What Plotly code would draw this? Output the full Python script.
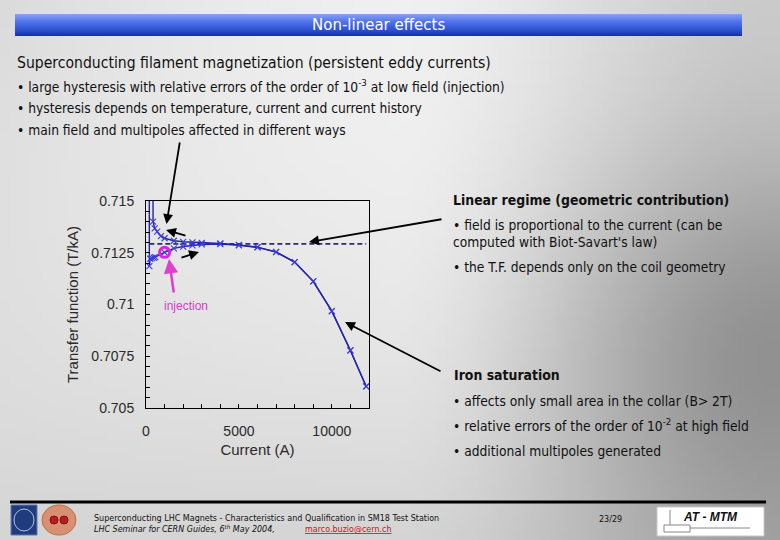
import base64
import math
import struct
import zlib
import plotly.graph_objects as go

# ---------------- data ----------------
ramp_up_current = [170, 180, 230, 320, 420, 500, 1000, 1500, 2000, 2500, 3000, 4000,
                   5000, 6000, 7000, 8000, 9000, 10000, 11000, 11850]
ramp_up_tf = [0.7300, 0.71185, 0.71221, 0.71224, 0.71226, 0.71229, 0.71252, 0.71271,
              0.71280, 0.71286, 0.71290, 0.71292, 0.71286, 0.71276, 0.71253, 0.71205,
              0.71112, 0.70968, 0.70778, 0.70604]
ramp_down_current = [11850, 11000, 10000, 9000, 8000, 7000, 6000, 5000, 4000, 3000,
                     2500, 2000, 1500, 1000, 800, 600, 470, 380, 360]
ramp_down_tf = [0.70604, 0.70778, 0.70968, 0.71112, 0.71205, 0.71254, 0.71277, 0.71288,
                0.71295, 0.71298, 0.71300, 0.71303, 0.71308, 0.71320, 0.71330, 0.71352,
                0.71368, 0.71400, 0.7300]
geometric_current = [180, 11850]
geometric_tf = [0.71293, 0.71293]
injection_current = [1000]
injection_tf = [0.71252]

x_tick_values = [0, 5000, 10000]
x_tick_labels = ["0", "5000", "10000"]
y_tick_values = [0.705, 0.7075, 0.71, 0.7125, 0.715]
y_tick_labels = ["0.705", "0.7075", "0.71", "0.7125", "0.715"]

# ---------------- page geometry helpers ----------------
W, H = 780, 540
ML, MR, MT, MB = 146, 411, 201, 132
PW, PH = W - ML - MR, H - MT - MB


def X(px):
    return (px - ML) / PW


def Y(py):
    return (H - MB - py) / PH


def _chunk(tag, data):
    return (struct.pack(">I", len(data)) + tag + data
            + struct.pack(">I", zlib.crc32(tag + data) & 0xFFFFFFFF))


def rgb_png(w, h, fn):
    raw = bytearray()
    for j in range(h):
        raw.append(0)
        for i in range(w):
            r, g, b = fn(i / max(w - 1, 1), j / max(h - 1, 1))
            raw += bytes((int(r), int(g), int(b)))
    png = (b"\x89PNG\r\n\x1a\n"
           + _chunk(b"IHDR", struct.pack(">IIBBBBB", w, h, 8, 2, 0, 0, 0))
           + _chunk(b"IDAT", zlib.compress(bytes(raw), 9))
           + _chunk(b"IEND", b""))
    return "data:image/png;base64," + base64.b64encode(png).decode()


def smoothstep(a, b, t):
    t = min(max((t - a) / (b - a), 0.0), 1.0)
    return t * t * (3 - 2 * t)


def bg_fn(u, v):
    r = smoothstep(0.5, 1.0, u)
    band = math.exp(-((v - 0.62) / 0.35) ** 2)
    val = (243 - 30 * v ** 2 - 85 * r * (0.45 + 0.55 * band)
           - 24 * (1 - u) ** 3 * (1 - v))
    val = max(0, min(255, val))
    return (val, val, val)


def bar_fn(u, v):
    stops = [(0.0, (135, 160, 245)), (0.35, (80, 115, 235)),
             (0.7, (50, 85, 215)), (1.0, (25, 50, 165))]
    for (t0, c0), (t1, c1) in zip(stops[:-1], stops[1:]):
        if v <= t1:
            f = (v - t0) / (t1 - t0)
            return tuple(c0[k] + (c1[k] - c0[k]) * f for k in range(3))
    return stops[-1][1]


BODY = "DejaVu Sans Condensed, DejaVu Sans, sans-serif"
CHART = "Liberation Sans, Arial, sans-serif"
SMALL = "DejaVu Sans, sans-serif"

fig = go.Figure()

fig.add_trace(go.Scatter(
    x=geometric_current, y=geometric_tf, mode="lines",
    line=dict(color="#2e2e6e", width=1.6, dash="5px,3px"),
    hoverinfo="skip", showlegend=False))

for xs, ys in ((ramp_up_current, ramp_up_tf), (ramp_down_current, ramp_down_tf)):
    fig.add_trace(go.Scatter(
        x=xs, y=ys, mode="lines+markers",
        line=dict(color="#2424a8", width=1.4),
        marker=dict(symbol="x-thin", size=6, color="#3b3be6",
                    line=dict(color="#3b3be6", width=1.1)),
        showlegend=False))

fig.add_trace(go.Scatter(
    x=injection_current, y=injection_tf, mode="markers",
    marker=dict(symbol="circle-open", size=10, color="#e020e0",
                line=dict(color="#e020e0", width=3)),
    showlegend=False))

fig.update_xaxes(
    range=[0, 12000], tickmode="array", tickvals=x_tick_values, ticktext=x_tick_labels,
    ticks="inside", ticklen=4, tickcolor="black", showgrid=False, zeroline=False,
    showline=True, linecolor="black", linewidth=1, mirror=True,
    minor=dict(tickmode="linear", tick0=0, dtick=1000, ticks="inside", ticklen=4,
               tickcolor="black", showgrid=False),
    tickfont=dict(family=CHART, size=14, color="#2a2a2a"), ticklabelstandoff=10,
    title=dict(text="Current (A)", font=dict(family=CHART, size=15, color="#2a2a2a"),
               standoff=6))
fig.update_yaxes(
    range=[0.705, 0.715], tickmode="array", tickvals=y_tick_values, ticktext=y_tick_labels,
    ticks="inside", ticklen=4, tickcolor="black", showgrid=False, zeroline=False,
    showline=True, linecolor="black", linewidth=1, mirror=True,
    minor=dict(tickmode="linear", tick0=0.705, dtick=0.0005, ticks="inside", ticklen=4,
               tickcolor="black", showgrid=False),
    tickfont=dict(family=CHART, size=14, color="#2a2a2a"), ticklabelstandoff=8,
    title=dict(text="Transfer function (T/kA)",
               font=dict(family=CHART, size=15, color="#2a2a2a"), standoff=9))

ann = []


def text(x, y, s, size=13.7, color="#111", family=BODY, anchor="left"):
    ann.append(dict(x=X(x), y=Y(y), xref="paper", yref="paper", text=s, showarrow=False,
                    xanchor=anchor, yanchor="middle",
                    font=dict(family=family, size=size, color=color)))


def arrow(tail, head, color="black", width=1.8):
    ann.append(dict(x=X(head[0]), y=Y(head[1]), xref="paper", yref="paper",
                    ax=tail[0] - head[0], ay=tail[1] - head[1], text="",
                    showarrow=True, arrowhead=2, arrowsize=1.1, arrowwidth=width,
                    arrowcolor=color, standoff=0))


text(378, 25, "Non-linear effects", size=15, color="white",
     family="DejaVu Sans, sans-serif", anchor="center")
text(15, 63, "Superconducting filament magnetization (persistent eddy currents)", size=15.6)
text(15, 86, "• large hysteresis with relative errors of the order of 10<sup>-3</sup> at low field (injection)")
text(15, 108, "• hysteresis depends on temperature, current and current history")
text(15, 130, "• main field and multipoles affected in different ways")

text(451, 200, "<b>Linear regime (geometric contribution)</b>", size=13.9)
text(451, 225, "• field is proportional to the current (can be")
text(451, 242, "computed with Biot-Savart's law)")
text(451, 267, "• the T.F. depends only on the coil geometry")
text(452, 375, "<b>Iron saturation</b>", size=13.9)
text(451, 401, "• affects only small area in the collar (B> 2T)")
text(451, 425, "• relative errors of the order of 10<sup>-2</sup> at high field")
text(451, 451, "• additional multipoles generated")

text(162, 306, "injection", size=12, color="#d040c8", family=CHART)

arrow((180, 141), (166.5, 224))
arrow((187, 236), (166, 230))
arrow((180, 258), (199, 252))
arrow((443, 219), (309, 242))
arrow((442, 372), (345, 322))
arrow((174, 294), (169, 259), color="#e040d0", width=2.6)

# footer
text(92, 518, "Superconducting LHC Magnets - Characteristics and Qualification in SM18 Test Station",
     size=8, color="#111", family=SMALL)
text(92, 529, "<i>LHC Seminar for CERN Guides, 6<sup>th</sup> May 2004,</i>",
     size=8, color="#111", family=SMALL)
text(303, 529, "<u>marco.buzio@cern.ch</u>", size=8, color="#d01010", family=SMALL)
text(597, 519, "23/29", size=8, color="#111", family=SMALL)
text(710, 517, "<b><i>AT - MTM</i></b>", size=12, color="#111", family=CHART, anchor="center")

shapes = [
    dict(type="line", xref="paper", yref="paper", x0=X(10), x1=X(766), y0=Y(502), y1=Y(502),
         line=dict(color="black", width=3)),
    dict(type="rect", xref="paper", yref="paper", x0=X(11), x1=X(37), y0=Y(505), y1=Y(535),
         fillcolor="#203c7c", line=dict(color="#6078b0", width=1)),
    dict(type="circle", xref="paper", yref="paper", x0=X(14), x1=X(34), y0=Y(509), y1=Y(531),
         line=dict(color="#b0c0e0", width=1)),
    dict(type="circle", xref="paper", yref="paper", x0=X(42), x1=X(76), y0=Y(505), y1=Y(535),
         fillcolor="#d89072", line=dict(color="#c06a48", width=1)),
    dict(type="circle", xref="paper", yref="paper", x0=X(50), x1=X(58), y0=Y(516), y1=Y(524),
         fillcolor="#b81c1c", line=dict(color="#801010", width=1)),
    dict(type="circle", xref="paper", yref="paper", x0=X(60), x1=X(68), y0=Y(516), y1=Y(524),
         fillcolor="#b81c1c", line=dict(color="#801010", width=1)),
    dict(type="rect", xref="paper", yref="paper", x0=X(657), x1=X(764), y0=Y(507), y1=Y(536),
         fillcolor="white", line=dict(color="#c8c8c8", width=1)),
    dict(type="rect", xref="paper", yref="paper", x0=X(664), x1=X(690), y0=Y(525), y1=Y(532),
         line=dict(color="#888", width=1)),
    dict(type="line", xref="paper", yref="paper", x0=X(690), x1=X(750), y0=Y(528), y1=Y(528),
         line=dict(color="#888", width=1)),
    dict(type="line", xref="paper", yref="paper", x0=X(670), x1=X(670), y0=Y(510), y1=Y(525),
         line=dict(color="#888", width=1)),
]

fig.update_layout(
    width=W, height=H, margin=dict(l=ML, r=MR, t=MT, b=MB, autoexpand=False),
    paper_bgcolor="#dcdcdc", plot_bgcolor="white",
    annotations=ann, shapes=shapes,
    images=[
        dict(source=rgb_png(120, 84, bg_fn), xref="paper", yref="paper",
             x=X(0), y=Y(0), sizex=W / PW, sizey=H / PH, sizing="stretch",
             xanchor="left", yanchor="top", layer="below"),
        dict(source=rgb_png(2, 24, bar_fn), xref="paper", yref="paper",
             x=X(15), y=Y(14), sizex=(742 - 15) / PW, sizey=22 / PH, sizing="stretch",
             xanchor="left", yanchor="top", layer="below"),
    ],
)

fig.write_html(
    "out.html",
    config={"displayModeBar": False},
    post_script="document.body.style.margin='0';document.body.style.overflow='hidden';")
